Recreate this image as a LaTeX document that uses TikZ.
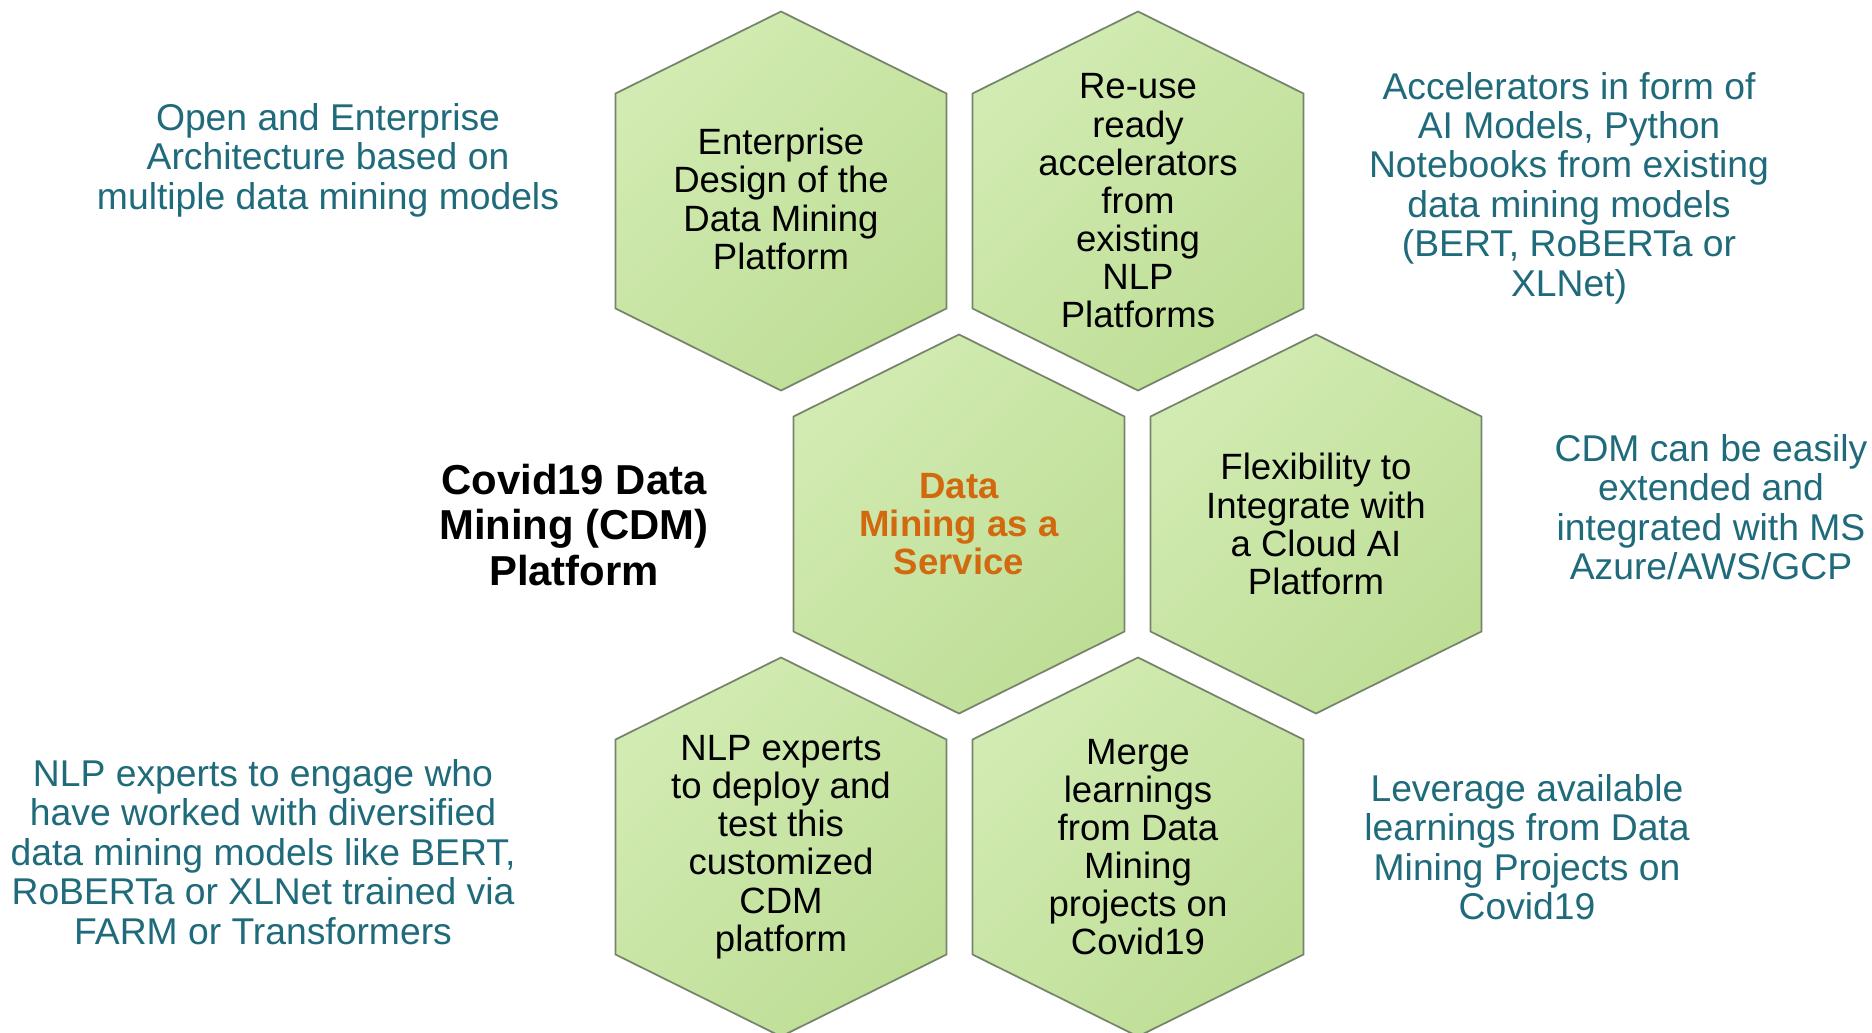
\documentclass[tikz,border=0pt]{standalone}
\usepackage{fontspec}
\setmainfont{Liberation Sans}
\usepackage{tikz}
\definecolor{hexlight}{RGB}{210,235,178}
\definecolor{hexdark}{RGB}{190,222,150}
\definecolor{hexline}{RGB}{118,132,108}
\definecolor{noteteal}{RGB}{31,107,123}
\definecolor{coreorange}{RGB}{210,105,15}
\tikzstyle{hexcell} = [draw=hexline, line width=0.5pt,
    top color=hexlight, bottom color=hexdark, shading angle=45]
\tikzstyle{celltext} = [align=center, inner sep=0,
    font=\fontsize{10.4}{10.85}\selectfont]
\tikzstyle{coretext} = [align=center, inner sep=0, text=coreorange,
    font=\bfseries\fontsize{10.4}{10.85}\selectfont]
\tikzstyle{sidenote} = [align=center, inner sep=0, text=noteteal,
    font=\fontsize{10.6}{11.2}\selectfont]
\tikzstyle{platformtitle} = [align=center, inner sep=0,
    font=\bfseries\fontsize{11.9}{12.9}\selectfont]
% hexagon outline, started from its centre (y axis points down)
\newcommand{\hexpath}{++(0,-189.5) -- ++(165.5,82) -- ++(0,215) -- ++(-165.5,82)
    -- ++(-165.5,-82) -- ++(0,-215) -- cycle}

\begin{document}
\begin{tikzpicture}[x=0.01cm, y=-0.01cm]

    \fill[white] (0,0) rectangle (1872,1033);
    \useasboundingbox (0,0) rectangle (1872,1033);

%%% HEXAGONS
\coordinate (h1) at (781,201);
\coordinate (h2) at (1138,201);
\coordinate (h3) at (959,524);
\coordinate (h4) at (1316,524);
\coordinate (h5) at (781,847);
\coordinate (h6) at (1138,847);

\draw[hexcell] (h1) \hexpath;
\draw[hexcell] (h2) \hexpath;
\draw[hexcell] (h3) \hexpath;
\draw[hexcell] (h4) \hexpath;
\draw[hexcell] (h5) \hexpath;
\draw[hexcell] (h6) \hexpath;

%%% TEXT IN THE CELLS
\node[celltext] (t1) at ([yshift=0.6pt]h1) {Enterprise\\Design of the\\Data Mining\\Platform};
\node[celltext] (t2) at (h2) {Re-use\\ready\\accelerators\\from\\existing\\NLP\\Platforms};
\node[coretext] (t3) at (h3) {Data\\Mining as a\\Service};
\node[celltext] (t4) at (h4) {Flexibility to\\Integrate with\\a Cloud AI\\Platform};
\node[celltext] (t5) at (h5) {NLP experts\\to deploy and\\test this\\customized\\CDM\\platform};
\node[celltext] (t6) at (h6) {Merge\\learnings\\from Data\\Mining\\projects on\\Covid19};

%%% TITLE
\node[platformtitle] (cdm) at (574,525) {Covid19 Data\\Mining (CDM)\\Platform};

%%% NOTES AROUND
\node[sidenote] (n1) at (328,160) {Open and Enterprise\\Architecture based on\\multiple data mining models};
\node[sidenote] (n2) at (1569,188) {Accelerators in form of\\AI Models, Python\\Notebooks from existing\\data mining models\\(BERT, RoBERTa or\\XLNet)};
\node[sidenote] (n3) at (1711,507) {CDM can be easily\\extended and\\integrated with MS\\Azure/AWS/GCP};
\node[sidenote] (n4) at (263,852) {NLP experts to engage who\\have worked with diversified\\data mining models like BERT,\\RoBERTa or XLNet trained via\\FARM or Transformers};
\node[sidenote] (n5) at (1527,847) {Leverage available\\learnings from Data\\Mining Projects on\\Covid19};

\end{tikzpicture}
\end{document}
